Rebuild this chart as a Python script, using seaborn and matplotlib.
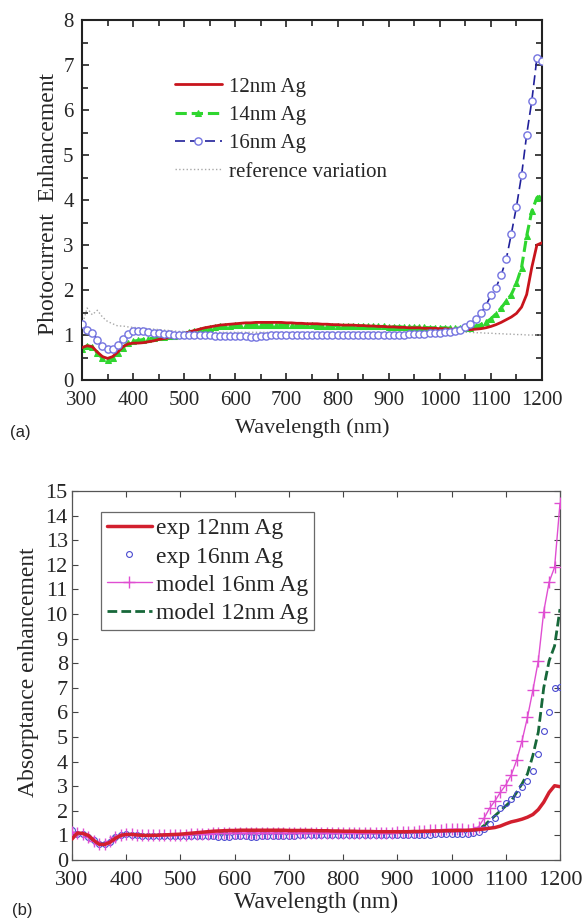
import numpy as np
import pandas as pd
import matplotlib
matplotlib.use("Agg")
import matplotlib.pyplot as plt
from matplotlib.ticker import MultipleLocator
import seaborn as sns

# ---------------- data ----------------
wavelength = list(range(300, 1201, 10))

# panel (a): photocurrent enhancement
pc_12nm = [0.72, 0.76, 0.74, 0.62, 0.52, 0.48, 0.52, 0.62, 0.74, 0.80,
           0.82, 0.82, 0.83, 0.85, 0.87, 0.90, 0.92, 0.94, 0.97, 0.99,
           1.03, 1.07, 1.10, 1.13, 1.16, 1.18, 1.20, 1.22, 1.23, 1.24,
           1.25, 1.26, 1.27, 1.27, 1.28, 1.28, 1.28, 1.28, 1.28, 1.28,
           1.27, 1.27, 1.26, 1.26, 1.25, 1.25, 1.25, 1.24, 1.24, 1.23,
           1.23, 1.22, 1.22, 1.22, 1.21, 1.21, 1.20, 1.20, 1.19, 1.19,
           1.18, 1.18, 1.17, 1.17, 1.16, 1.16, 1.16, 1.15, 1.15, 1.15,
           1.14, 1.14, 1.13, 1.13, 1.13, 1.12, 1.12, 1.13, 1.14, 1.16,
           1.19, 1.23, 1.28, 1.34, 1.40, 1.48, 1.62, 1.90, 2.50, 3.00,
           3.05]
pc_14nm = [0.70, 0.76, 0.74, 0.60, 0.48, 0.45, 0.50, 0.60, 0.72, 0.82,
           0.86, 0.88, 0.90, 0.92, 0.93, 0.95, 0.96, 0.97, 0.98, 0.99,
           1.02, 1.06, 1.09, 1.12, 1.14, 1.16, 1.18, 1.19, 1.20, 1.21,
           1.22, 1.22, 1.23, 1.23, 1.23, 1.23, 1.23, 1.23, 1.23, 1.23,
           1.23, 1.23, 1.22, 1.22, 1.22, 1.22, 1.21, 1.21, 1.21, 1.21,
           1.20, 1.20, 1.20, 1.20, 1.20, 1.19, 1.19, 1.19, 1.19, 1.19,
           1.18, 1.18, 1.18, 1.18, 1.17, 1.17, 1.17, 1.17, 1.16, 1.16,
           1.16, 1.16, 1.15, 1.15, 1.15, 1.15, 1.16, 1.19, 1.23, 1.28,
           1.36, 1.47, 1.60, 1.75, 1.90, 2.15, 2.50, 3.20, 3.75, 4.05,
           4.10]
pc_16nm = [1.25, 1.12, 1.05, 0.90, 0.75, 0.68, 0.70, 0.78, 0.92, 1.02,
           1.08, 1.10, 1.08, 1.06, 1.05, 1.04, 1.03, 1.02, 1.01, 1.00,
           1.00, 1.00, 0.99, 0.99, 0.99, 0.99, 0.98, 0.98, 0.98, 0.98,
           0.98, 0.97, 0.97, 0.96, 0.95, 0.97, 0.98, 0.99, 0.99, 1.00,
           1.00, 1.00, 1.00, 1.00, 1.00, 1.00, 1.00, 1.00, 1.00, 1.00,
           1.00, 1.00, 1.00, 0.99, 0.99, 0.99, 0.99, 0.99, 0.99, 1.00,
           1.00, 1.00, 1.01, 1.01, 1.02, 1.02, 1.03, 1.03, 1.04, 1.04,
           1.05, 1.06, 1.07, 1.08, 1.12, 1.17, 1.25, 1.35, 1.48, 1.65,
           1.88, 2.05, 2.33, 2.68, 3.25, 3.85, 4.55, 5.45, 6.20, 7.15,
           7.10]
pc_reference = [1.20, 1.60, 1.45, 1.55, 1.40, 1.30, 1.25, 1.20, 1.20, 1.18,
                1.17, 1.16, 1.15, 1.14, 1.13, 1.12, 1.11, 1.10, 1.09, 1.08,
                1.08, 1.07, 1.07, 1.07, 1.06, 1.06, 1.06, 1.06, 1.06, 1.06,
                1.06, 1.06, 1.06, 1.06, 1.06, 1.06, 1.06, 1.06, 1.06, 1.06,
                1.06, 1.06, 1.06, 1.06, 1.06, 1.06, 1.06, 1.06, 1.06, 1.06,
                1.06, 1.06, 1.06, 1.06, 1.06, 1.06, 1.06, 1.06, 1.06, 1.06,
                1.06, 1.06, 1.06, 1.06, 1.06, 1.06, 1.06, 1.06, 1.06, 1.06,
                1.06, 1.06, 1.06, 1.06, 1.06, 1.06, 1.06, 1.05, 1.05, 1.04,
                1.04, 1.03, 1.03, 1.02, 1.02, 1.01, 1.01, 1.00, 1.00, 1.00,
                1.00]

# panel (b): absorptance enhancement
ab_exp_12nm = [0.85, 1.10, 1.08, 1.00, 0.80, 0.64, 0.63, 0.72, 0.88, 1.00,
               1.04, 1.04, 1.02, 1.00, 1.00, 1.00, 1.01, 1.02, 1.03, 1.04,
               1.05, 1.07, 1.09, 1.11, 1.13, 1.15, 1.17, 1.18, 1.19, 1.20,
               1.20, 1.21, 1.21, 1.21, 1.21, 1.21, 1.21, 1.21, 1.21, 1.21,
               1.20, 1.20, 1.20, 1.20, 1.20, 1.19, 1.19, 1.19, 1.18, 1.18,
               1.17, 1.17, 1.17, 1.16, 1.16, 1.16, 1.15, 1.15, 1.15, 1.15,
               1.15, 1.15, 1.15, 1.16, 1.16, 1.17, 1.17, 1.18, 1.18, 1.19,
               1.19, 1.20, 1.20, 1.21, 1.22, 1.24, 1.26, 1.29, 1.32, 1.38,
               1.47, 1.55, 1.60, 1.66, 1.74, 1.85, 2.05, 2.35, 2.75, 3.02,
               2.98]
ab_exp_16nm = [1.20, 1.05, 1.05, 0.95, 0.80, 0.66, 0.65, 0.75, 0.92, 1.02,
               1.05, 1.03, 1.00, 0.98, 0.97, 0.97, 0.97, 0.97, 0.97, 0.98,
               0.98, 0.98, 0.97, 0.96, 0.96, 0.96, 0.96, 0.95, 0.95, 0.95,
               0.96, 0.96, 0.96, 0.95, 0.95, 0.96, 0.97, 0.97, 0.98, 0.98,
               0.99, 0.99, 1.00, 1.00, 1.00, 1.00, 1.00, 1.00, 1.00, 1.00,
               1.00, 1.00, 1.00, 1.00, 1.00, 1.00, 1.00, 1.00, 1.00, 1.00,
               1.00, 1.01, 1.01, 1.02, 1.02, 1.03, 1.03, 1.04, 1.04, 1.05,
               1.05, 1.06, 1.06, 1.07, 1.08, 1.12, 1.25, 1.45, 1.70, 2.10,
               2.30, 2.50, 2.70, 2.95, 3.20, 3.60, 4.30, 5.25, 6.00, 7.00,
               7.05]
ab_model_16nm = [1.15, 1.08, 1.05, 0.95, 0.78, 0.65, 0.66, 0.78, 0.95, 1.03,
                 1.05, 1.04, 1.02, 1.01, 1.00, 1.00, 1.01, 1.01, 1.02, 1.02,
                 1.03, 1.03, 1.04, 1.05, 1.06, 1.07, 1.08, 1.08, 1.09, 1.09,
                 1.10, 1.10, 1.10, 1.10, 1.10, 1.10, 1.10, 1.10, 1.10, 1.10,
                 1.10, 1.10, 1.10, 1.10, 1.10, 1.10, 1.10, 1.10, 1.10, 1.10,
                 1.10, 1.10, 1.10, 1.10, 1.10, 1.10, 1.10, 1.10, 1.10, 1.11,
                 1.12, 1.13, 1.14, 1.15, 1.16, 1.18, 1.20, 1.22, 1.23, 1.24,
                 1.25, 1.25, 1.24, 1.23, 1.25, 1.35, 1.70, 2.10, 2.40, 2.75,
                 3.05, 3.45, 4.05, 4.85, 5.80, 6.90, 8.10, 10.10, 11.30, 11.90,
                 14.50]
ab_model_12nm = [0.95, 1.08, 1.05, 0.95, 0.78, 0.65, 0.66, 0.78, 0.95, 1.03,
                 1.04, 1.03, 1.02, 1.01, 1.00, 1.00, 1.01, 1.01, 1.02, 1.02,
                 1.03, 1.03, 1.04, 1.05, 1.06, 1.07, 1.08, 1.08, 1.09, 1.09,
                 1.10, 1.10, 1.10, 1.10, 1.10, 1.10, 1.10, 1.10, 1.10, 1.10,
                 1.10, 1.10, 1.10, 1.10, 1.10, 1.10, 1.10, 1.10, 1.10, 1.10,
                 1.10, 1.10, 1.10, 1.10, 1.10, 1.10, 1.10, 1.10, 1.10, 1.10,
                 1.11, 1.12, 1.12, 1.13, 1.14, 1.15, 1.16, 1.17, 1.18, 1.19,
                 1.19, 1.20, 1.20, 1.20, 1.20, 1.25, 1.40, 1.60, 1.80, 2.00,
                 2.20, 2.40, 2.75, 3.10, 3.50, 4.25, 5.20, 7.00, 8.10, 8.70,
                 10.20]

xticks = [300, 400, 500, 600, 700, 800, 900, 1000, 1100, 1200]

# ---------------- style ----------------
sns.set_style("ticks")
plt.rcParams["font.family"] = ["Liberation Serif", "DejaVu Serif"]
plt.rcParams["mathtext.fontset"] = "stix"

fig = plt.figure(figsize=(5.87, 9.19), dpi=100)
W, H = 587.0, 919.0


def axes_px(left, top, right, bottom):
    return fig.add_axes([left / W, 1 - bottom / H, (right - left) / W, (bottom - top) / H])


# ---------------- panel (a) ----------------
axa = axes_px(82, 20, 542, 380)
dfa = pd.DataFrame({"wl": wavelength, "r": pc_12nm, "g": pc_14nm,
                    "b": pc_16nm, "ref": pc_reference})

sns.lineplot(data=dfa, x="wl", y="ref", ax=axa, color="#a8a8a8", lw=1.0,
             linestyle=":", label="reference variation", estimator=None, zorder=1)
sns.lineplot(data=dfa, x="wl", y="r", ax=axa, color="#c8141c", lw=2.0,
             label="12nm Ag", estimator=None, zorder=3)
sns.lineplot(data=dfa, x="wl", y="g", ax=axa, color="#2fd62f", lw=2.2,
             linestyle="--", marker="^", markersize=5, markeredgecolor="#2fd62f",
             markerfacecolor="#2fd62f", label="14nm Ag", estimator=None, zorder=2)
sns.lineplot(data=dfa, x="wl", y="b", ax=axa, color="#20209a", lw=1.2,
             linestyle=(0, (6, 3)), marker="o", markersize=5.2,
             markerfacecolor="white", markeredgecolor="#7474e0", markeredgewidth=1.0,
             label="16nm Ag", estimator=None, zorder=4)

axa.set_xlim(300, 1200)
axa.set_ylim(0, 8)
axa.set_xticks(xticks)
axa.xaxis.set_minor_locator(MultipleLocator(50))
axa.yaxis.set_major_locator(MultipleLocator(1))
axa.yaxis.set_minor_locator(MultipleLocator(0.5))
axa.tick_params(which="both", direction="in", top=True, right=True,
                labelsize=15, width=1.2, color="#222222")
axa.tick_params(axis="x", pad=8)
axa.tick_params(axis="y", pad=6)
axa.tick_params(which="major", length=5)
axa.tick_params(which="minor", length=4)
for s in axa.spines.values():
    s.set_linewidth(1.5)
    s.set_color("#222222")
axa.set_xlabel("Wavelength (nm)", fontsize=16)
axa.set_ylabel("Photocurrent  Enhancement", fontsize=17)
axa.xaxis.set_label_coords(0.5, -0.105)
axa.yaxis.set_label_coords(-0.05, 0.49)

h, l = axa.get_legend_handles_labels()
order = [l.index("12nm Ag"), l.index("14nm Ag"), l.index("16nm Ag"), l.index("reference variation")]
axa.legend([h[i] for i in order], [l[i] for i in order], loc="upper left",
           bbox_to_anchor=(0.183, 0.865), frameon=False, fontsize=15,
           handlelength=2.3, handletextpad=0.3, labelspacing=0.42, borderaxespad=0)

fig.text(10 / W, 1 - 433 / H, "(a)", family="Liberation Sans", fontsize=12, va="center", ha="left")

# ---------------- panel (b) ----------------
axb = axes_px(72, 491, 560, 860)
dfb = pd.DataFrame({"wl": wavelength, "e12": ab_exp_12nm, "e16": ab_exp_16nm,
                    "m16": ab_model_16nm, "m12": ab_model_12nm})

sns.lineplot(data=dfb, x="wl", y="m12", ax=axb, color="#17683a", lw=2.0,
             linestyle=(0, (3.5, 1.5)), label="model 12nm Ag", estimator=None, zorder=2)
sns.lineplot(data=dfb, x="wl", y="e16", ax=axb, color="#4a4ad0", lw=0,
             linestyle="none", marker="o", markersize=4.2, markerfacecolor="none",
             markeredgecolor="#4a4ad0", markeredgewidth=0.8,
             label="exp 16nm Ag", estimator=None, zorder=3)
sns.lineplot(data=dfb, x="wl", y="m16", ax=axb, color="#e04ed2", lw=1.0,
             marker="+", markersize=8, markeredgewidth=1.0, markeredgecolor="#e04ed2",
             label="model 16nm Ag", estimator=None, zorder=4)
sns.lineplot(data=dfb, x="wl", y="e12", ax=axb, color="#d21f2e", lw=2.5,
             label="exp 12nm Ag", estimator=None, zorder=5)

axb.set_xlim(300, 1200)
axb.set_ylim(0, 15)
axb.set_xticks(xticks)
axb.yaxis.set_major_locator(MultipleLocator(1))
axb.tick_params(which="both", direction="in", top=True, right=True,
                labelsize=16, length=4, width=0.8, color="#444444")
axb.tick_params(axis="x", pad=8)
axb.tick_params(axis="y", pad=3)
for s in axb.spines.values():
    s.set_linewidth(0.9)
    s.set_color("#555555")
axb.set_xlabel("Wavelength (nm)", fontsize=17)
axb.set_ylabel("Absorptance enhancement", fontsize=17)
axb.xaxis.set_label_coords(0.5, -0.085)
axb.yaxis.set_label_coords(-0.068, 0.51)

h, l = axb.get_legend_handles_labels()
order = [l.index("exp 12nm Ag"), l.index("exp 16nm Ag"), l.index("model 16nm Ag"), l.index("model 12nm Ag")]
legb = axb.legend([h[i] for i in order], [l[i] for i in order], loc="upper left",
                  bbox_to_anchor=(0.059, 0.943), frameon=True, fancybox=False,
                  fontsize=17, handlelength=1.9, handletextpad=0.2, labelspacing=0.28,
                  borderpad=0.25, borderaxespad=0)
legb.get_frame().set_edgecolor("#444444")
legb.get_frame().set_linewidth(0.9)

fig.text(12 / W, 1 - 910 / H, "(b)", family="Liberation Sans", fontsize=12, va="center", ha="left")

fig.savefig("out.png", dpi=100)
